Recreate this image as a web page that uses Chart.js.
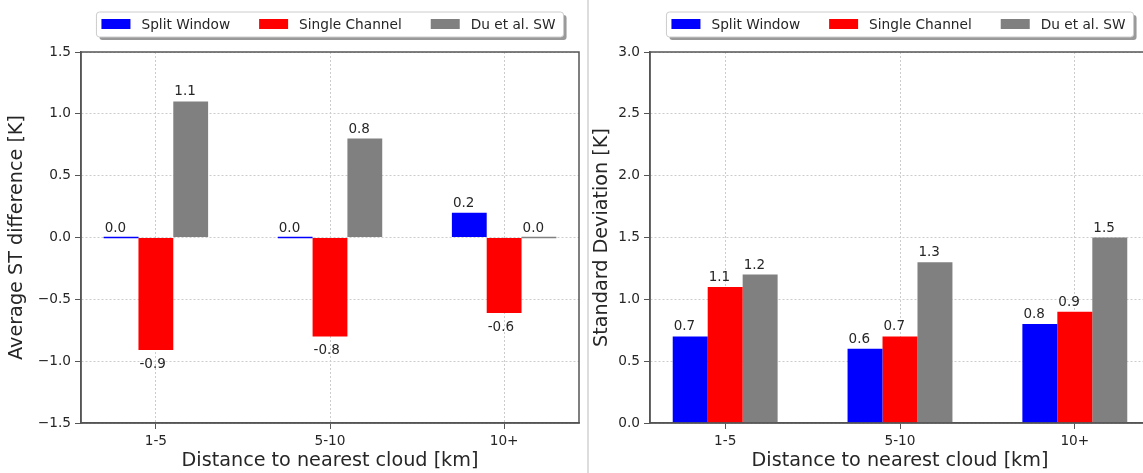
<!DOCTYPE html>
<html>
<head>
<meta charset="utf-8">
<script src="https://cdn.jsdelivr.net/npm/chart.js@4.4.0/dist/chart.umd.min.js"></script>
<style>
  html, body { margin: 0; padding: 0; background: #fff; overflow: hidden; width: 1143px; height: 473px; }
  #left { position: absolute; left: 0; top: 0; }
  #sep { position: absolute; left: 587px; top: 0; width: 2px; height: 473px; background: #dddddd; }
  #right { position: absolute; left: 589px; top: 0; }
</style>
</head>
<body>
<canvas id="left" width="587" height="473"></canvas>
<div id="sep"></div>
<canvas id="right" width="571" height="473"></canvas>
<script>
// categories and series
const categories = ["1-5", "5-10", "10+"];
const seriesNames = ["Split Window", "Single Channel", "Du et al. SW"];
const seriesColors = ["#0000ff", "#ff0000", "#808080"];

// left panel: average ST difference [K]
const avgSplit = [0.0, 0.0, 0.2];
const avgSingle = [-0.91, -0.8, -0.61];
const avgDu = [1.1, 0.8, 0.0];
const avgTicks = [-1.5, -1.0, -0.5, 0.0, 0.5, 1.0, 1.5];

// right panel: standard deviation [K]
const stdSplit = [0.7, 0.6, 0.8];
const stdSingle = [1.1, 0.7, 0.9];
const stdDu = [1.2, 1.3, 1.5];
const stdTicks = [0.0, 0.5, 1.0, 1.5, 2.0, 2.5, 3.0];

const FONT = "'DejaVu Sans', sans-serif";
const TXT = "#262626";
const SPINE = "#555555";
const GRID = "#cccccc";

// full box around the plot, like matplotlib spines
const spines = {
  id: "spines",
  afterDatasetsDraw(chart) {
    const { ctx, chartArea: a } = chart;
    ctx.save();
    ctx.strokeStyle = SPINE;
    ctx.lineWidth = 1.5;
    ctx.strokeRect(a.left, a.top, a.right - a.left, a.bottom - a.top);
    ctx.restore();
  }
};

// value above / below each bar, left aligned on the bar
const valueLabels = {
  id: "valueLabels",
  afterDatasetsDraw(chart) {
    const { ctx } = chart;
    const y = chart.scales.y;
    ctx.save();
    ctx.font = "13.5px " + FONT;
    ctx.fillStyle = TXT;
    ctx.textAlign = "left";
    ctx.textBaseline = "alphabetic";
    chart.data.datasets.forEach((ds, i) => {
      chart.getDatasetMeta(i).data.forEach((bar, j) => {
        const v = ds.data[j].y;
        const py = y.getPixelForValue(v);
        const left = bar.x - bar.width / 2 + 1;
        ctx.fillText(v.toFixed(1), left, v < 0 ? py + 18 : py - 6);
      });
    });
    ctx.restore();
  }
};

// framed legend with shadow above the plot
const boxLegend = {
  id: "boxLegend",
  afterDraw(chart) {
    const { ctx, chartArea: a } = chart;
    const ds = chart.data.datasets;
    ctx.save();
    ctx.font = "13.7px " + FONT;
    const sw = 29, sh = 10, gap = 11, sp = 29, padL = 5, padR = 8;
    const widths = ds.map(d => ctx.measureText(d.label).width);
    const total = padL + padR + widths.reduce((s, w) => s + sw + gap + w, 0) + sp * (ds.length - 1);
    const x0 = (a.left + a.right) / 2 - total / 2;
    const y0 = 12, h = 25;
    ctx.fillStyle = "rgba(0,0,0,0.4)";
    ctx.beginPath();
    ctx.roundRect(x0 + 3, y0 + 3, total, h, 3);
    ctx.fill();
    ctx.fillStyle = "#ffffff";
    ctx.strokeStyle = "#cccccc";
    ctx.lineWidth = 1;
    ctx.beginPath();
    ctx.roundRect(x0, y0, total, h, 3);
    ctx.fill();
    ctx.stroke();
    let x = x0 + padL;
    ds.forEach((d, i) => {
      ctx.fillStyle = d.backgroundColor;
      ctx.fillRect(x, y0 + 7, sw, sh);
      ctx.fillStyle = TXT;
      ctx.textAlign = "left";
      ctx.textBaseline = "middle";
      ctx.fillText(d.label, x + sw + gap, y0 + h / 2 + 1);
      x += sw + gap + widths[i] + sp;
    });
    ctx.restore();
  }
};

function makeDatasets(series) {
  return series.map((vals, i) => ({
    label: seriesNames[i],
    data: vals.map((v, j) => ({ x: j, y: v })),
    backgroundColor: seriesColors[i],
    borderWidth: 0,
    barPercentage: 1.0,
    categoryPercentage: 0.6,
    minBarLength: 1.5
  }));
}

function makeChart(id, series, ticks, yTitle, yWidth, titlePad, padRight) {
  new Chart(document.getElementById(id), {
    type: "bar",
    data: { datasets: makeDatasets(series) },
    options: {
      responsive: false,
      animation: false,
      devicePixelRatio: 1,
      layout: { padding: { top: 52, right: padRight, bottom: 0, left: 0 } },
      plugins: { legend: { display: false }, tooltip: { enabled: false } },
      scales: {
        x: {
          type: "linear",
          offset: false,
          min: -0.43,
          max: 2.43,
          afterBuildTicks: s => { s.ticks = categories.map((c, i) => ({ value: i })); },
          afterFit: s => { s.height = 50; },
          ticks: {
            callback: v => categories[v],
            font: { family: FONT, size: 13.7 },
            color: TXT,
            padding: 4,
            maxRotation: 0,
            autoSkip: false
          },
          grid: { offset: false, color: GRID, tickColor: SPINE, tickLength: 6, tickWidth: 1, tickBorderDash: [] },
          border: { display: true, color: SPINE, width: 1.5, dash: [2, 2] },
          title: {
            display: true,
            text: "Distance to nearest cloud [km]",
            font: { family: FONT, size: 19.2 },
            color: TXT,
            padding: { top: 0, bottom: 0 }
          }
        },
        y: {
          min: ticks[0],
          max: ticks[ticks.length - 1],
          afterBuildTicks: s => { s.ticks = ticks.map(v => ({ value: v })); },
          afterFit: s => { s.width = yWidth; },
          ticks: {
            callback: v => v.toFixed(1).replace("-", "\u2212"),
            font: { family: FONT, size: 13.7 },
            color: TXT,
            padding: 4
          },
          grid: { color: GRID, tickColor: SPINE, tickLength: 6, tickWidth: 1, tickBorderDash: [] },
          border: { display: true, color: SPINE, width: 1.5, dash: [2, 2] },
          title: {
            display: true,
            text: yTitle,
            font: { family: FONT, size: 19.2 },
            color: TXT,
            padding: { top: titlePad, bottom: 0 }
          }
        }
      }
    },
    plugins: [spines, valueLabels, boxLegend]
  });
}

makeChart("left", [avgSplit, avgSingle, avgDu], avgTicks, "Average ST difference [K]", 81, 5, 8);
makeChart("right", [stdSplit, stdSingle, stdDu], stdTicks, "Standard Deviation [K]", 61, 1.5, 10);
</script>
</body>
</html>
